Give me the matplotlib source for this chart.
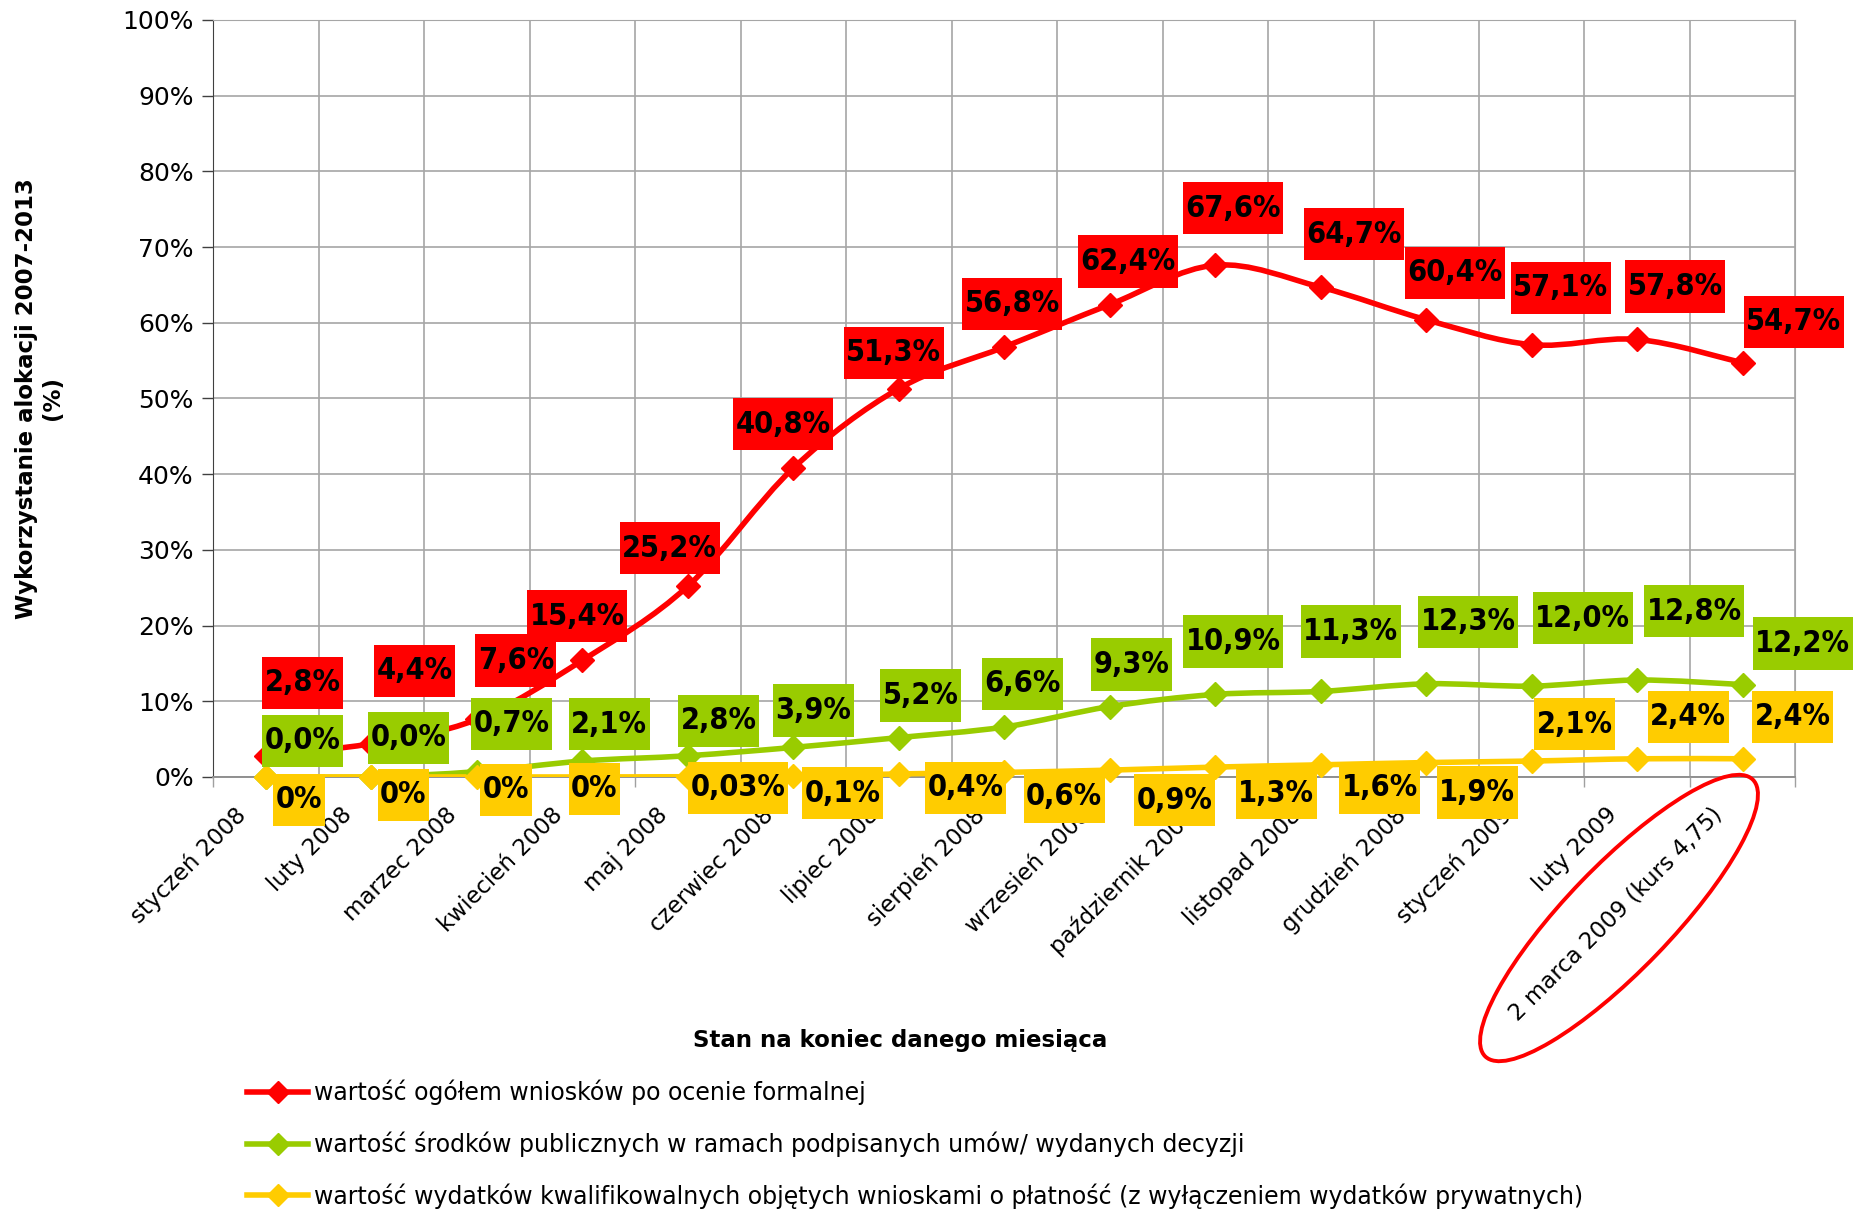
import numpy as np
import matplotlib
matplotlib.use('Agg')
import matplotlib.pyplot as plt
from matplotlib.path import Path
from matplotlib.patches import PathPatch, Ellipse
from matplotlib.lines import Line2D
from matplotlib.transforms import ScaledTranslation

plt.rcParams['font.family'] = ['DejaVu Sans']

months = ['styczeń 2008', 'luty 2008', 'marzec 2008', 'kwiecień 2008', 'maj 2008',
          'czerwiec 2008', 'lipiec 2008', 'sierpień 2008', 'wrzesień 2008',
          'październik 2008', 'listopad 2008', 'grudzień 2008', 'styczeń 2009',
          'luty 2009', '2 marca 2009 (kurs 4,75)']

red_vals = [2.8, 4.4, 7.6, 15.4, 25.2, 40.8, 51.3, 56.8, 62.4, 67.6, 64.7, 60.4, 57.1, 57.8, 54.7]
green_vals = [0.0, 0.0, 0.7, 2.1, 2.8, 3.9, 5.2, 6.6, 9.3, 10.9, 11.3, 12.3, 12.0, 12.8, 12.2]
yellow_vals = [0, 0, 0, 0, 0.03, 0.1, 0.4, 0.6, 0.9, 1.3, 1.6, 1.9, 2.1, 2.4, 2.4]

series_names = ['wartość ogółem wniosków po ocenie formalnej',
                'wartość środków publicznych w ramach podpisanych umów/ wydanych decyzji',
                'wartość wydatków kwalifikowalnych objętych wnioskami o płatność (z wyłączeniem wydatków prywatnych)']

# przesunięcia etykiet danych (piksele, y w górę)
red_off = [(37, 73), (43, 73), (39, 59), (-5, 44), (-18, 38), (-10, 44), (-5, 36), (8, 43),
           (18, 43), (18, 57), (33, 53), (29, 47), (29, 57), (38, 53), (51, 41)]
green_off = [(37, 36), (37, 39), (35, 48), (27, 37), (31, 35), (20, 37), (22, 42), (18, 43),
             (22, 42), (18, 53), (30, 60), (42, 62), (51, 68), (57, 69), (60, 41)]
yellow_off = [(33, -23), (32, -18), (29, -13), (12, -12), (50, -11), (49, -17), (67, -14), (60, -24),
              (65, -30), (61, -26), (59, -23), (51, -30), (43, 37), (51, 42), (50, 42)]

RED = '#FF0000'
GREEN = '#99CC00'
YELLOW = '#FFCC00'
GRID = '#A6A6A6'


def smooth_path(x, y):
    # krzywa Beziera jak w wygładzonej linii Excela
    verts = [(x[0], y[0])]
    codes = [Path.MOVETO]
    n = len(x)
    for i in range(n - 1):
        p0 = i - 1 if i > 0 else i
        p3 = i + 2 if i + 2 < n else i + 1
        c1 = (x[i] + (x[i + 1] - x[p0]) / 6, y[i] + (y[i + 1] - y[p0]) / 6)
        c2 = (x[i + 1] - (x[p3] - x[i]) / 6, y[i + 1] - (y[p3] - y[i]) / 6)
        verts += [c1, c2, (x[i + 1], y[i + 1])]
        codes += [Path.CURVE4] * 3
    return Path(verts, codes)


def label_box(x0, y0, width, height, mutation_size):
    # prostokąt z mniejszym marginesem w poziomie niż w pionie
    px = 0.08 * mutation_size
    py = 0.38 * mutation_size
    x0, x1 = x0 - px, x0 + width + px
    y0, y1 = y0 - py, y0 + height + py
    return Path([(x0, y0), (x1, y0), (x1, y1), (x0, y1), (x0, y0)], closed=True)


def fmt(v, short=False):
    s = f'{v:g}' if short else f'{v:.1f}'
    return s.replace('.', ',') + '%'


fig = plt.figure(figsize=(18.74, 12.10), dpi=100)
ax = fig.add_axes([0.1137, 0.3579, 0.8444, 0.6256])

x = np.arange(len(months))
ax.set_xlim(-0.5, len(months) - 0.5)
ax.set_ylim(0, 100)

handles = []
for vals, color, offs, short in [(red_vals, RED, red_off, False),
                                 (green_vals, GREEN, green_off, False),
                                 (yellow_vals, YELLOW, yellow_off, True)]:
    ax.add_patch(PathPatch(smooth_path(x, vals), fill=False, edgecolor=color, lw=4,
                           capstyle='round', joinstyle='round', zorder=3))
    ax.plot(x, vals, ls='none', marker='D', ms=12, color=color, mec=color, zorder=4,
            clip_on=False)
    for xi, v, (dx, dy) in zip(x, vals, offs):
        ax.annotate(fmt(v, short), (xi, v), xytext=(dx, dy), textcoords='offset pixels',
                    ha='center', va='center', fontsize=22, fontweight='bold',
                    fontstretch='condensed', color='black',
                    bbox=dict(boxstyle=label_box, fc=color, ec='none'),
                    zorder=6, annotation_clip=False)
    handles.append(Line2D([], [], color=color, lw=4, marker='D', ms=11, mec=color))

# osie i siatka
ax.set_yticks(np.arange(0, 101, 10))
ax.set_yticklabels([f'{t}%' for t in range(0, 101, 10)], fontsize=18)
ax.set_xticks(x)
ax.set_xticklabels(months, rotation=45, ha='right', va='top', fontsize=16.5)
bounds = np.arange(-0.5, len(months))
ax.set_xticks(bounds, minor=True)
ax.tick_params(axis='x', which='major', length=0, pad=19)
ax.tick_params(axis='x', which='minor', length=7, color='#A0A0A0', width=1)
ax.tick_params(axis='y', length=8, color='#404040', width=1, pad=6)
ax.grid(axis='y', color=GRID, lw=1.2)
ax.set_axisbelow(True)
ax.vlines(bounds, 0, 100, color=GRID, lw=1.2, zorder=0.4)
ax.xaxis.set_zorder(5)
for s in ['top', 'right']:
    ax.spines[s].set_color(GRID)
ax.spines['left'].set_color('#404040')
ax.spines['bottom'].set_color('#909090')
ax.spines['bottom'].set_linewidth(1.4)

shift = ScaledTranslation(-0.15, 0, fig.dpi_scale_trans)
for lab in ax.get_xticklabels():
    lab.set_transform(lab.get_transform() + shift)

fig.text(0.021, 0.6707, 'Wykorzystanie alokacji 2007-2013\n(%)', rotation=90,
         ha='center', va='center', fontsize=16.5, fontweight='bold', multialignment='center')
fig.text(0.4805, 1 - 1040 / 1210, 'Stan na koniec danego miesiąca', ha='center', va='center',
         fontsize=16.5, fontweight='bold')

fig.legend(handles, series_names, loc='upper left', bbox_to_anchor=(0.1318, 0.108),
           frameon=False, fontsize=17, handlelength=2.6, handletextpad=0.25,
           labelspacing=1.12, borderpad=0, borderaxespad=0)

# czerwona elipsa wokół ostatniej etykiety
ell = Ellipse((16.19, 2.92), width=3.85, height=1.05, angle=46, fill=False,
              edgecolor=RED, lw=2.8, transform=fig.dpi_scale_trans)
fig.patches.append(ell)

fig.savefig('out.png', dpi=100)
